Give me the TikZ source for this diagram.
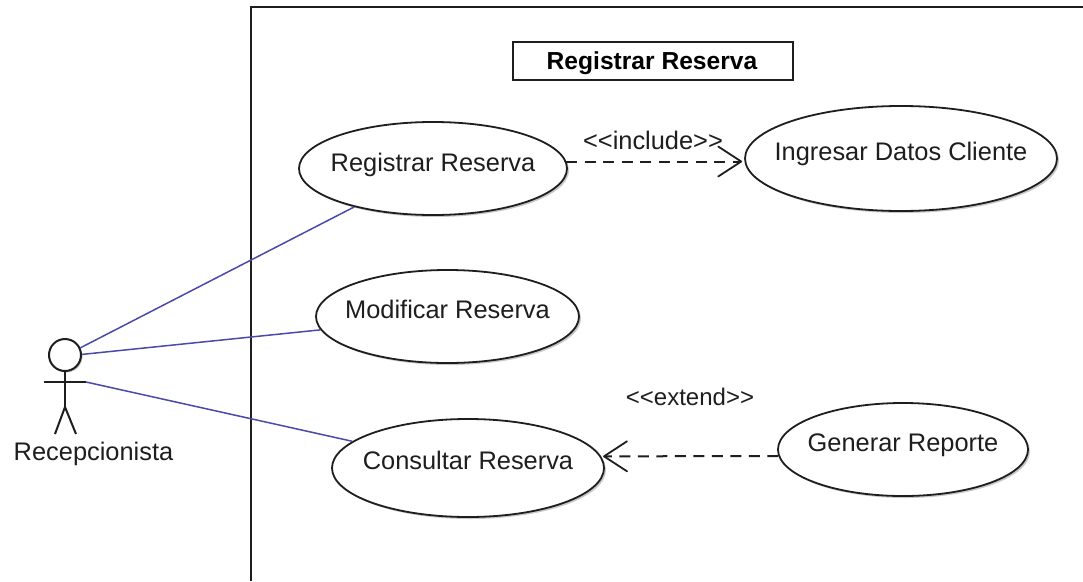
\documentclass[tikz,border=0pt]{standalone}
\usepackage{fontspec}
\setmainfont{Liberation Sans}
\usetikzlibrary{shapes.geometric,arrows.meta,shadows}
\definecolor{assoc}{HTML}{4A4AA8}
\definecolor{ink}{HTML}{1E1E1E}
\newcommand{\basedtext}[2]{\raisebox{#1}[0pt][0pt]{#2}}
\tikzset{
  usecase/.style={ellipse,draw=ink,line width=1.8pt,fill=white,inner xsep=-60pt,inner ysep=-20pt,
    drop shadow={shadow xshift=2pt,shadow yshift=-2pt,opacity=.22,fill=black},
    font=\fontsize{25.4}{28}\selectfont,text=ink},
  assocline/.style={draw=assoc,line width=1.5pt},
  deplink/.style={draw=ink,line width=2pt,dash pattern=on 11pt off 7.5pt,shorten >=2pt,
    -{Straight Barb[length=23pt,width=30pt,line width=1.8pt,round]}},
  plainlabel/.style={inner sep=0pt,anchor=base,font=\fontsize{25.4}{28}\selectfont,text=ink},
  stick/.style={draw=ink,line width=2pt}
}
\begin{document}
\begin{tikzpicture}[x=1pt,y=-1pt]
\useasboundingbox (0,0) rectangle (1083,581);
\fill[white] (0,0) rectangle (1083,581);
% system frame
\draw[ink,line width=2pt] (251,581) -- (251,7) -- (1083,7);
\node[draw=ink,line width=1.8pt,minimum width=280pt,minimum height=38pt,inner sep=0pt,
  font=\bfseries\fontsize{24.6}{28}\selectfont] (title) at (653,61) {\hspace{-2pt}\basedtext{-8pt}{Registrar Reserva}};
% use cases
\node[usecase,minimum width=268pt,minimum height=93pt] (reg) at (433,168.5) {\basedtext{-2.5pt}{Registrar Reserva}};
\node[usecase,minimum width=263pt,minimum height=93pt] (mod) at (447.5,316.5) {\basedtext{-1.5pt}{Modificar Reserva}};
\node[usecase,minimum width=272pt,minimum height=98pt] (con) at (468,468) {\basedtext{-1pt}{Consultar Reserva}};
\node[usecase,minimum width=312pt,minimum height=105pt] (ing) at (901,158.5) {\basedtext{-1.5pt}{Ingresar Datos Cliente}};
\node[usecase,minimum width=250pt,minimum height=93pt] (gen) at (903,449.5) {\basedtext{-1.5pt}{Generar Reporte}};
% actor
\node[circle,draw=ink,line width=2pt,fill=white,minimum size=32pt,inner sep=0pt,
  drop shadow={shadow xshift=1.5pt,shadow yshift=-1.5pt,opacity=.22,fill=black}] (head) at (65,355) {};
\coordinate (hip) at (65,407);
\coordinate (armL) at (44,382);
\coordinate (armR) at (86,382);
\coordinate (footL) at (55,434);
\coordinate (footR) at (76,434);
\draw[stick] (head.south) -- (hip);
\draw[stick] (armL) -- (armR);
\draw[stick] (footL) -- (hip) -- (footR);
\node[plainlabel] (actor) at (93.5,460) {Recepcionista};
% associations
\draw[assocline] (head.25) -- (reg.206.6);
\draw[assocline] (head.2) -- (mod.186.6);
\draw[assocline] (armR) -- (con.167.4);
% dependencies
\draw[deplink] (reg.3.2) -- (ing.west |- reg.3.2);
\draw[deplink] (gen.183) -- (con.5);
\node[plainlabel] (inc) at (653,149) {<{}<include>{}>};
\node[plainlabel,font=\fontsize{24}{28}\selectfont] (ext) at (690,405) {<{}<extend>{}>};
\end{tikzpicture}
\end{document}
